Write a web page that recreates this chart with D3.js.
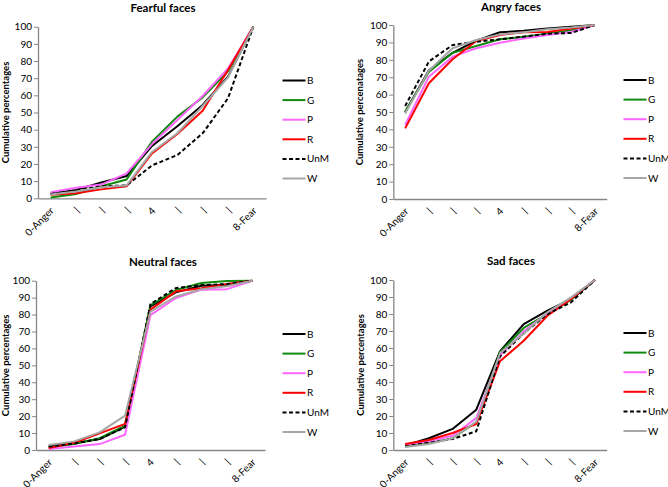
<!DOCTYPE html>
<html><head><meta charset="utf-8">
<script src="https://cdn.jsdelivr.net/npm/d3@7"></script>
<style>
html,body{margin:0;padding:0;background:#fff;}
svg{display:block;font-family:Lato,"Open Sans",sans-serif;}
</style></head>
<body>
<svg id="chart" width="668" height="487"></svg>
<script>
// ---------- data ----------
const categories = ["0-Anger","|","|","|","4","|","|","|","8-Fear"];
const seriesNames = ["B","G","P","R","UnM","W"];
const yTicks = [0,10,20,30,40,50,60,70,80,90,100];

const fearB   = [2.8, 4.9, 9.2, 13.0, 30.5, 42.0, 54.4, 70.9, 100];
const fearG   = [0.5, 2.5, 7.0, 11.0, 33.0, 47.6, 58.8, 74.0, 100];
const fearP   = [3.5, 6.2, 8.0, 14.5, 31.6, 45.6, 59.6, 75.7, 100];
const fearR   = [2.0, 3.0, 5.2, 7.0, 26.2, 37.5, 51.0, 74.8, 100];
const fearUnM = [2.5, 4.5, 7.0, 7.5, 19.2, 25.2, 37.9, 58.3, 100];
const fearW   = [2.2, 4.0, 6.5, 7.5, 27.0, 37.9, 53.8, 70.5, 100];

const angryB   = [50.0, 74.0, 84.0, 91.0, 95.8, 96.7, 98.0, 99.0, 100];
const angryG   = [50.2, 73.0, 84.0, 87.9, 91.8, 93.3, 95.0, 97.0, 100];
const angryP   = [42.5, 70.3, 81.8, 86.6, 89.8, 92.3, 94.2, 96.0, 100];
const angryR   = [40.6, 66.5, 80.3, 90.8, 94.3, 95.8, 96.0, 98.0, 100];
const angryUnM = [53.4, 79.0, 88.5, 90.4, 91.8, 93.3, 95.0, 95.4, 100];
const angryW   = [49.2, 73.7, 86.6, 91.4, 94.6, 95.8, 97.5, 98.5, 100];

const neutralB   = [2.2, 4.0, 6.5, 13.8, 84.8, 93.1, 97.0, 97.4, 100];
const neutralG   = [1.5, 3.5, 7.0, 14.4, 85.6, 94.5, 98.6, 99.8, 100];
const neutralP   = [0.6, 2.0, 3.5, 9.0, 79.7, 89.8, 94.7, 95.0, 100];
const neutralR   = [1.2, 4.3, 9.8, 15.4, 82.9, 93.7, 95.5, 98.0, 100];
const neutralUnM = [2.0, 3.8, 6.5, 13.4, 86.2, 95.7, 97.4, 98.0, 100];
const neutralW   = [3.0, 5.1, 10.4, 20.3, 81.7, 90.7, 95.0, 96.7, 100];

const sadB   = [2.7, 6.9, 12.4, 23.7, 58.0, 74.1, 82.0, 88.8, 100];
const sadG   = [2.0, 3.9, 6.9, 16.3, 57.5, 71.8, 80.0, 88.4, 100];
const sadP   = [3.0, 5.1, 8.4, 18.8, 55.5, 69.8, 80.4, 89.4, 100];
const sadR   = [3.5, 5.9, 10.0, 15.3, 52.2, 64.3, 79.0, 88.8, 100];
const sadUnM = [2.2, 4.3, 6.5, 11.0, 55.0, 68.6, 80.0, 86.9, 100];
const sadW   = [1.8, 3.5, 6.9, 16.7, 57.0, 68.6, 81.0, 89.8, 100];

// ---------- styles / layout ----------
const seriesStyle = {
  B:  {color:"#000000", dash:null},
  G:  {color:"#0f8a0f", dash:null},
  P:  {color:"#ff66ff", dash:null},
  R:  {color:"#ff0000", dash:null},
  UnM:{color:"#000000", dash:"4,2.5"},
  W:  {color:"#a6a6a6", dash:null}
};

const panels = [
  {title:"Fearful faces", ylab:"Cumulative percentages",
   series:[fearB,fearG,fearP,fearR,fearUnM,fearW],
   left:38, right:266, top:26.7, bottom:198.3, titleX:163, titleY:11.5, ylabX:5.5, legX:282.5, legY:80.5},
  {title:"Angry faces", ylab:"Cumulative percenatages",
   series:[angryB,angryG,angryP,angryR,angryUnM,angryW],
   left:393.3, right:606.7, top:25, bottom:199, titleX:511, titleY:11, ylabX:359.5, legX:623.5, legY:80},
  {title:"Neutral faces", ylab:"Cumulative percentages",
   series:[neutralB,neutralG,neutralP,neutralR,neutralUnM,neutralW],
   left:36, right:265, top:280.7, bottom:450, titleX:163, titleY:265.5, ylabX:5.5, legX:282.5, legY:334},
  {title:"Sad faces", ylab:"Cumulative percentages",
   series:[sadB,sadG,sadP,sadR,sadUnM,sadW],
   left:393.3, right:606.7, top:280, bottom:450, titleX:511, titleY:265, ylabX:360, legX:623.5, legY:333}
];

const svg = d3.select("#chart");
const axisColor = "#868686";

panels.forEach(p => {
  const g = svg.append("g");
  const x = d3.scaleBand().domain(d3.range(categories.length)).range([p.left, p.right]).padding(0);
  const y = d3.scaleLinear().domain([0,100]).range([p.bottom, p.top]);
  const cx = i => x(i) + x.bandwidth()/2;

  // title
  g.append("text").attr("x", p.titleX).attr("y", p.titleY)
    .attr("text-anchor","middle").attr("font-weight","bold").attr("font-size","11.5px")
    .attr("fill","#000").text(p.title);

  // y axis
  const yAxis = g.append("g").attr("transform", `translate(${p.left},0)`)
    .call(d3.axisLeft(y).tickValues(yTicks).tickSize(4).tickPadding(2).tickSizeOuter(0));
  yAxis.select(".domain").attr("stroke", axisColor).attr("stroke-width",1.3);
  yAxis.selectAll(".tick line").attr("stroke", axisColor).attr("stroke-width",1);
  yAxis.selectAll(".tick text").attr("font-size","10px").attr("fill","#000")
    .attr("font-family","Lato, 'Open Sans', sans-serif");

  // x axis
  const xAxis = g.append("g").attr("transform", `translate(0,${p.bottom})`)
    .call(d3.axisBottom(x).tickFormat(i => categories[i]).tickSize(0).tickSizeOuter(0));
  xAxis.select(".domain").attr("stroke", axisColor).attr("stroke-width",1.3);
  xAxis.selectAll(".tick text")
    .attr("font-size","10px").attr("fill","#000")
    .attr("font-family","Lato, 'Open Sans', sans-serif")
    .attr("text-anchor","end").attr("dy",null).attr("y",0)
    .attr("transform","translate(4,13) rotate(-45)");

  // y label
  g.append("text")
    .attr("transform", `translate(${p.ylabX + 3.5},${(p.top + p.bottom)/2}) rotate(-90)`)
    .attr("text-anchor","middle").attr("font-weight","bold").attr("font-size","9.5px")
    .attr("fill","#000").text(p.ylab);

  // lines
  const line = d3.line().x((d,i) => cx(i)).y(d => y(d));
  p.series.forEach((vals, si) => {
    const st = seriesStyle[seriesNames[si]];
    g.append("path").datum(vals).attr("d", line)
      .attr("fill","none").attr("stroke", st.color).attr("stroke-width",2)
      .attr("stroke-linejoin","round")
      .attr("stroke-dasharray", st.dash);
  });

  // legend
  seriesNames.forEach((name, si) => {
    const st = seriesStyle[name];
    const ly = p.legY + si*19.6;
    g.append("line").attr("x1", p.legX).attr("x2", p.legX + 23)
      .attr("y1", ly).attr("y2", ly)
      .attr("stroke", st.color).attr("stroke-width",2)
      .attr("stroke-dasharray", st.dash);
    g.append("text").attr("x", p.legX + 24.5).attr("y", ly + 3.5)
      .attr("font-size","10px").attr("fill","#000").text(name);
  });
});
</script>
</body></html>
